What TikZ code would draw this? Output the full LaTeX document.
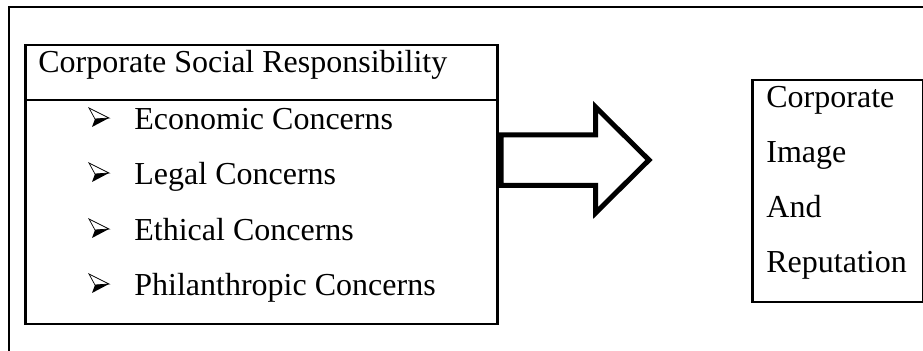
\documentclass[tikz,border=0pt]{standalone}
\usepackage{fontspec}
\setmainfont{Liberation Serif}
\begin{document}
\begin{tikzpicture}[x=0.5pt,y=-0.5pt,line join=miter,
    frameline/.style={line width=1.25pt},
    boxed/.style={draw,frameline,inner sep=0pt,anchor=north west},
    label/.style={anchor=base west,inner sep=0pt,font=\fontsize{16}{19}\selectfont},
    pics/arrowbullet/.style={code={
      \draw[line width=0.35pt] (0,-22) -- (20,-12) -- (6,-11) -- cycle;
      \fill (6,-11) -- (20,-12) -- (3,-3) -- cycle;
    }}]
\useasboundingbox (0,0) rectangle (923,351);

% outer frame, open at the right and bottom
\draw[frameline] (9,351) |- (923,7);

% left box with its title row
\node[boxed,minimum width=236pt,minimum height=139.5pt] (csr) at (24,44) {};
\coordinate (rowl) at (24,100);
\coordinate (rowr) at (496,100);
\draw[frameline] (rowl) -- (rowr);
\node[label] (title) at (38,73) {Corporate Social Responsibility};

\pic at (89,130) {arrowbullet};
\node[label] (econ) at (134,130) {Economic Concerns};
\pic at (89,185) {arrowbullet};
\node[label] (legal) at (134,185) {Legal Concerns};
\pic at (89,241) {arrowbullet};
\node[label] (ethic) at (134,241) {Ethical Concerns};
\pic at (89,296) {arrowbullet};
\node[label] (phil) at (134,296) {Philanthropic Concerns};

% block arrow
\draw[line width=2.5pt] (501,135) -- (595.5,135) -- (595.5,107) -- (649,160)
  -- (595.5,213) -- (595.5,185.5) -- (501,185.5) -- cycle;

% right box
\node[boxed,minimum width=85.25pt,minimum height=111pt] (img) at (751,79) {};
\node[label] (l1) at (766,108) {Corporate};
\node[label] (l2) at (766,163) {Image};
\node[label] (l3) at (766,218) {And};
\node[label] (l4) at (766,273) {Reputation};
\end{tikzpicture}
\end{document}
